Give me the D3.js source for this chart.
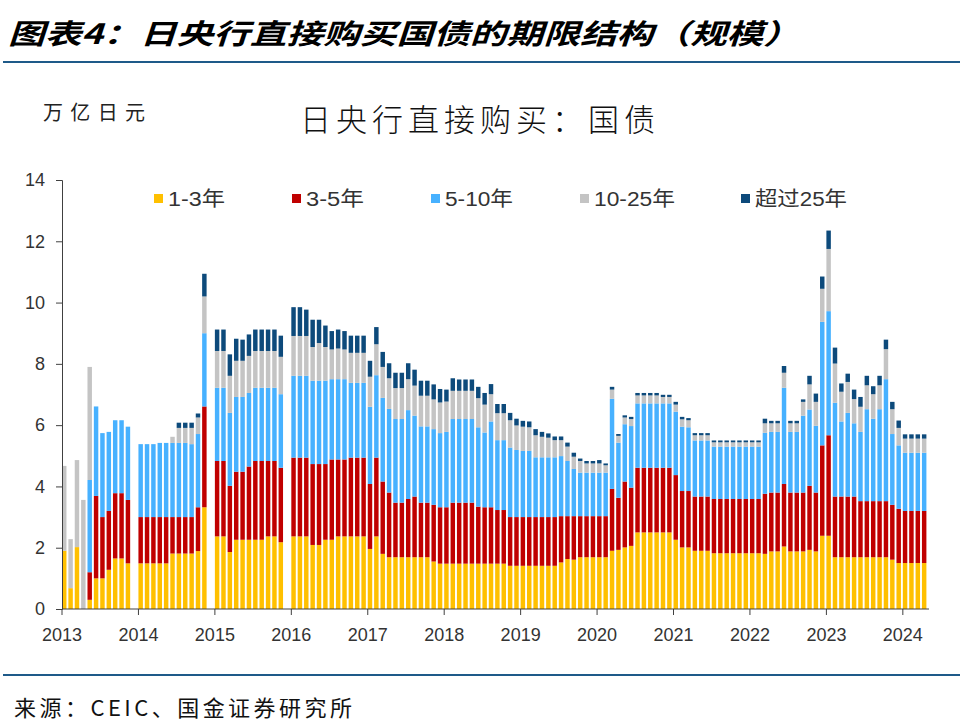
<!DOCTYPE html>
<html><head><meta charset="utf-8">
<script src="https://cdn.jsdelivr.net/npm/d3@7"></script>
<style>
html,body{margin:0;padding:0;background:#fff;}
svg{display:block;}
</style></head>
<body>
<svg id="chart" width="960" height="728"></svg>
<script>
// ---- Data (万亿日元), monthly Jan 2013 – Apr 2024; null = no purchase that month ----
const startMonth = "2013-01";
const monthCount = 136;
const yearTicks = [2013,2014,2015,2016,2017,2018,2019,2020,2021,2022,2023,2024];
const seriesNames = ["1-3年","3-5年","5-10年","10-25年","超过25年"];

const y1to3 = [1.90,0.68,2.02,0,0.30,1.00,1.00,1.28,1.65,1.65,1.49,null,
1.49,1.49,1.49,1.49,1.49,1.81,1.81,1.81,1.81,1.89,3.32,null,
2.37,2.37,1.86,2.26,2.26,2.26,2.26,2.26,2.37,2.37,2.18,null,
2.37,2.37,2.37,2.09,2.09,2.26,2.26,2.37,2.37,2.37,2.37,2.37,
1.96,2.37,1.80,1.69,1.69,1.69,1.69,1.69,1.69,1.69,1.55,1.48,
1.48,1.48,1.48,1.48,1.48,1.48,1.48,1.48,1.48,1.48,1.41,1.41,
1.41,1.41,1.41,1.41,1.41,1.41,1.52,1.63,1.61,1.69,1.69,1.69,
1.69,1.69,1.90,1.93,2.01,2.06,2.50,2.50,2.50,2.50,2.50,2.50,
2.26,2.01,2.01,1.90,1.90,1.90,1.82,1.82,1.82,1.82,1.82,1.82,
1.82,1.82,1.80,1.88,1.88,2.04,1.88,1.88,1.88,1.93,1.88,2.39,
2.39,1.69,1.69,1.69,1.69,1.69,1.69,1.69,1.69,1.69,1.61,1.50,
1.50,1.50,1.50,1.50];
const y3to5 = [0,0,0,0,0.90,2.69,2.00,1.92,2.13,2.13,2.07,null,
1.51,1.51,1.51,1.51,1.51,1.19,1.19,1.19,1.19,1.43,3.29,null,
2.46,2.46,2.16,2.22,2.22,2.39,2.57,2.57,2.46,2.46,2.43,null,
2.57,2.57,2.57,2.64,2.64,2.47,2.62,2.51,2.51,2.57,2.57,2.57,
2.12,2.57,2.36,2.11,1.78,1.78,1.90,1.98,1.78,1.78,1.85,1.84,
1.84,1.99,1.99,1.99,1.99,1.86,1.84,1.84,1.75,1.75,1.59,1.59,
1.59,1.59,1.59,1.59,1.59,1.59,1.51,1.40,1.42,1.34,1.34,1.34,
1.34,1.34,2.02,1.70,2.15,1.90,2.11,2.11,2.11,2.11,2.11,2.11,
2.11,1.84,1.84,1.77,1.77,1.77,1.77,1.77,1.77,1.77,1.77,1.77,
1.77,1.77,1.96,1.92,1.92,2.04,1.92,1.92,1.92,2.09,1.92,2.95,
3.28,1.98,1.98,1.98,1.98,1.83,1.83,1.83,1.83,1.83,1.79,1.77,
1.70,1.70,1.70,1.70];
const y5to10 = [0,0,0,0,3.01,2.92,2.74,2.58,2.38,2.38,2.39,null,
2.38,2.38,2.38,2.42,2.42,2.42,2.42,2.42,2.38,2.39,2.39,null,
2.39,2.39,2.38,2.44,2.44,2.40,2.39,2.39,2.39,2.39,2.40,null,
2.67,2.67,2.67,2.72,2.72,2.72,2.62,2.62,2.62,2.44,2.44,2.44,
2.52,2.69,2.73,2.73,2.73,2.73,2.90,2.64,2.49,2.49,2.47,2.42,
2.46,2.73,2.73,2.73,2.73,2.59,2.44,2.80,2.28,2.28,2.27,2.19,
2.16,2.16,1.95,1.95,1.95,1.95,1.96,1.80,1.54,1.42,1.42,1.42,
1.42,1.42,2.94,1.80,1.87,2.01,2.10,2.10,2.10,2.10,2.10,2.10,
2.07,2.10,2.08,1.83,1.83,1.83,1.71,1.71,1.71,1.71,1.71,1.71,
1.71,1.71,1.99,1.98,1.98,3.14,1.98,1.98,2.51,2.49,2.18,4.03,
4.05,3.06,2.45,2.73,2.39,2.26,3.00,2.69,3.00,3.98,2.31,2.07,
1.90,1.90,1.90,1.90];
const y10to25 = [2.77,1.60,2.84,3.56,3.69,0,0,0,0,0,0,null,
0,0,0,0,0,0.20,0.49,0.49,0.53,0.54,1.20,null,
1.20,1.20,1.21,1.18,1.18,1.21,1.20,1.20,1.20,1.20,1.22,null,
1.30,1.30,1.30,1.10,1.23,1.10,0.97,1.00,0.97,0.98,0.98,0.98,
0.98,1.01,1.01,1.00,1.01,1.01,1.01,0.98,1.00,1.00,0.97,1.00,
0.99,0.92,0.92,0.92,0.92,0.95,0.91,0.89,0.88,0.88,0.89,0.80,
0.79,0.77,0.72,0.67,0.64,0.56,0.52,0.47,0.40,0.38,0.30,0.30,
0.30,0.24,0.30,0.22,0.22,0.23,0.26,0.26,0.26,0.26,0.21,0.21,
0.23,0.24,0.23,0.17,0.17,0.17,0.14,0.14,0.14,0.14,0.14,0.14,
0.14,0.14,0.31,0.28,0.28,0.49,0.28,0.28,0.45,0.82,0.78,1.08,
2.03,1.28,0.97,1.01,0.79,0.82,0.78,0.80,0.78,0.98,0.81,0.57,
0.46,0.46,0.46,0.46];
const y25plus = [0,0,0,0,0,0,0,0,0,0,0,null,
0,0,0,0,0,0,0.17,0.17,0.17,0.13,0.74,null,
0.70,0.70,0.70,0.72,0.69,0.70,0.70,0.70,0.70,0.70,0.69,null,
0.94,0.94,0.86,0.89,0.76,0.70,0.60,0.62,0.60,0.56,0.56,0.56,
0.52,0.56,0.49,0.49,0.50,0.50,0.52,0.52,0.49,0.49,0.49,0.44,
0.39,0.41,0.37,0.37,0.37,0.37,0.38,0.33,0.30,0.30,0.24,0.22,
0.19,0.19,0.20,0.16,0.14,0.12,0.12,0.13,0.13,0.08,0.08,0.08,
0.11,0.06,0.09,0.06,0.07,0.07,0.08,0.08,0.08,0.08,0.07,0.07,
0.09,0.08,0.07,0.07,0.07,0.07,0.06,0.06,0.06,0.06,0.06,0.06,
0.06,0.06,0.15,0.08,0.08,0.22,0.08,0.08,0.08,0.28,0.27,0.40,
0.60,0.52,0.27,0.27,0.31,0.32,0.31,0.26,0.31,0.31,0.24,0.24,
0.14,0.14,0.14,0.14];
const yTicks = [0,2,4,6,8,10,12,14];
const colors = ["#FFC000","#C00000","#47B1FF","#C4C4C4","#0D4A7B"];

// ---- Build ----
(function () {
const parse = d3.timeParse("%Y-%m");
const months = d3.timeMonth.range(parse(startMonth), d3.timeMonth.offset(parse(startMonth), monthCount));
const seriesArrays = [y1to3, y3to5, y5to10, y10to25, y25plus];
const rows = months.map((m, i) => {
  const r = {i, date: m, empty: seriesArrays.every(a => a[i] === null)};
  seriesNames.forEach((k, j) => r[k] = seriesArrays[j][i] || 0);
  return r;
});

const svg = d3.select("#chart");
const mLeft = 62, mRight = 926.4, mTop = 180, mBottom = 609;

const x = d3.scaleBand().domain(d3.range(monthCount)).range([mLeft, mRight])
  .paddingInner(0.3).paddingOuter(0).align(0);
const y = d3.scaleLinear().domain([0, 14]).range([mBottom, mTop]);

// header
svg.append("text").attr("x", 8).attr("y", 44)
  .attr("font-family", "'Noto Sans CJK SC', sans-serif").attr("font-weight", 700)
  .attr("font-style", "italic").attr("font-size", 28).attr("fill", "#000")
  .attr("textLength", 792).attr("lengthAdjust", "spacingAndGlyphs")
  .text("图表4：日央行直接购买国债的期限结构（规模）");
svg.append("line").attr("x1", 3).attr("x2", 960).attr("y1", 62).attr("y2", 62)
  .attr("stroke", "#1E5A89").attr("stroke-width", 2);

svg.append("text").attr("x", 43).attr("y", 120)
  .attr("font-family", "'Noto Sans CJK SC', sans-serif").attr("font-size", 20).attr("fill", "#222")
  .attr("textLength", 102).attr("lengthAdjust", "spacing").text("万亿日元");
svg.append("text").attr("x", 300).attr("y", 131)
  .attr("font-family", "'Noto Sans CJK SC', sans-serif").attr("font-weight", 300)
  .attr("font-size", 31).attr("fill", "#111")
  .attr("textLength", 355).attr("lengthAdjust", "spacing").text("日央行直接购买：国债");

// bars
const stack = d3.stack().keys(seriesNames);
const layers = stack(rows);
svg.append("g").selectAll("g").data(layers).join("g")
  .attr("fill", (d, j) => colors[j])
  .selectAll("rect").data(d => d.filter(p => !p.data.empty && p[1] - p[0] > 0))
  .join("rect")
  .attr("x", p => x(p.data.i)).attr("width", x.bandwidth())
  .attr("y", p => y(p[1])).attr("height", p => y(p[0]) - y(p[1]));

// y axis
const yAxis = d3.axisLeft(y).tickValues(yTicks).tickSize(6).tickPadding(11);
const gy = svg.append("g").attr("transform", `translate(${mLeft},0)`).call(yAxis);
gy.select(".domain").attr("stroke", "#404040");
gy.selectAll(".tick line").attr("stroke", "#404040");
gy.selectAll("text").attr("font-family", "'Liberation Sans', Arial, sans-serif")
  .attr("font-size", 18).attr("fill", "#333");

// x axis
const janIdx = yearTicks.map(yr => months.findIndex(m => m.getFullYear() === yr && m.getMonth() === 0));
const xYear = d3.scaleOrdinal().domain(yearTicks).range(janIdx.map(i => x(i)));
const gx = svg.append("g").attr("transform", `translate(0,${mBottom})`);
gx.append("line").attr("x1", mLeft).attr("x2", 929).attr("stroke", "#404040");
const tk = gx.selectAll("g").data(yearTicks).join("g").attr("transform", d => `translate(${xYear(d)},0)`);
tk.append("line").attr("y2", 6).attr("stroke", "#404040");
tk.append("text").attr("y", 32).attr("text-anchor", "middle")
  .attr("font-family", "'Liberation Sans', Arial, sans-serif").attr("font-size", 18).attr("fill", "#333")
  .text(d => d);

// legend
const legendX = [154, 292, 431, 580, 741];
const legendW = [57, 58, 68, 81, 92];
const lg = svg.append("g").selectAll("g").data(seriesNames).join("g")
  .attr("transform", (d, j) => `translate(${legendX[j]},198)`);
lg.append("rect").attr("x", 0).attr("y", -4).attr("width", 9).attr("height", 9).attr("fill", (d, j) => colors[j]);
lg.append("text").attr("x", 14).attr("y", 7.5)
  .attr("font-family", "'Liberation Sans', 'Noto Sans CJK SC', sans-serif").attr("font-size", 20).attr("fill", "#333")
  .attr("textLength", (d, j) => legendW[j]).attr("lengthAdjust", "spacingAndGlyphs")
  .text(d => d);

// footer
svg.append("line").attr("x1", 3).attr("x2", 960).attr("y1", 675).attr("y2", 675)
  .attr("stroke", "#1E5A89").attr("stroke-width", 2);
svg.append("text").attr("x", 14).attr("y", 716)
  .attr("font-family", "'Noto Sans CJK SC', sans-serif").attr("font-size", 22).attr("fill", "#111")
  .attr("textLength", 338).attr("lengthAdjust", "spacing").text("来源：CEIC、国金证券研究所");
})();
</script>
</body></html>
